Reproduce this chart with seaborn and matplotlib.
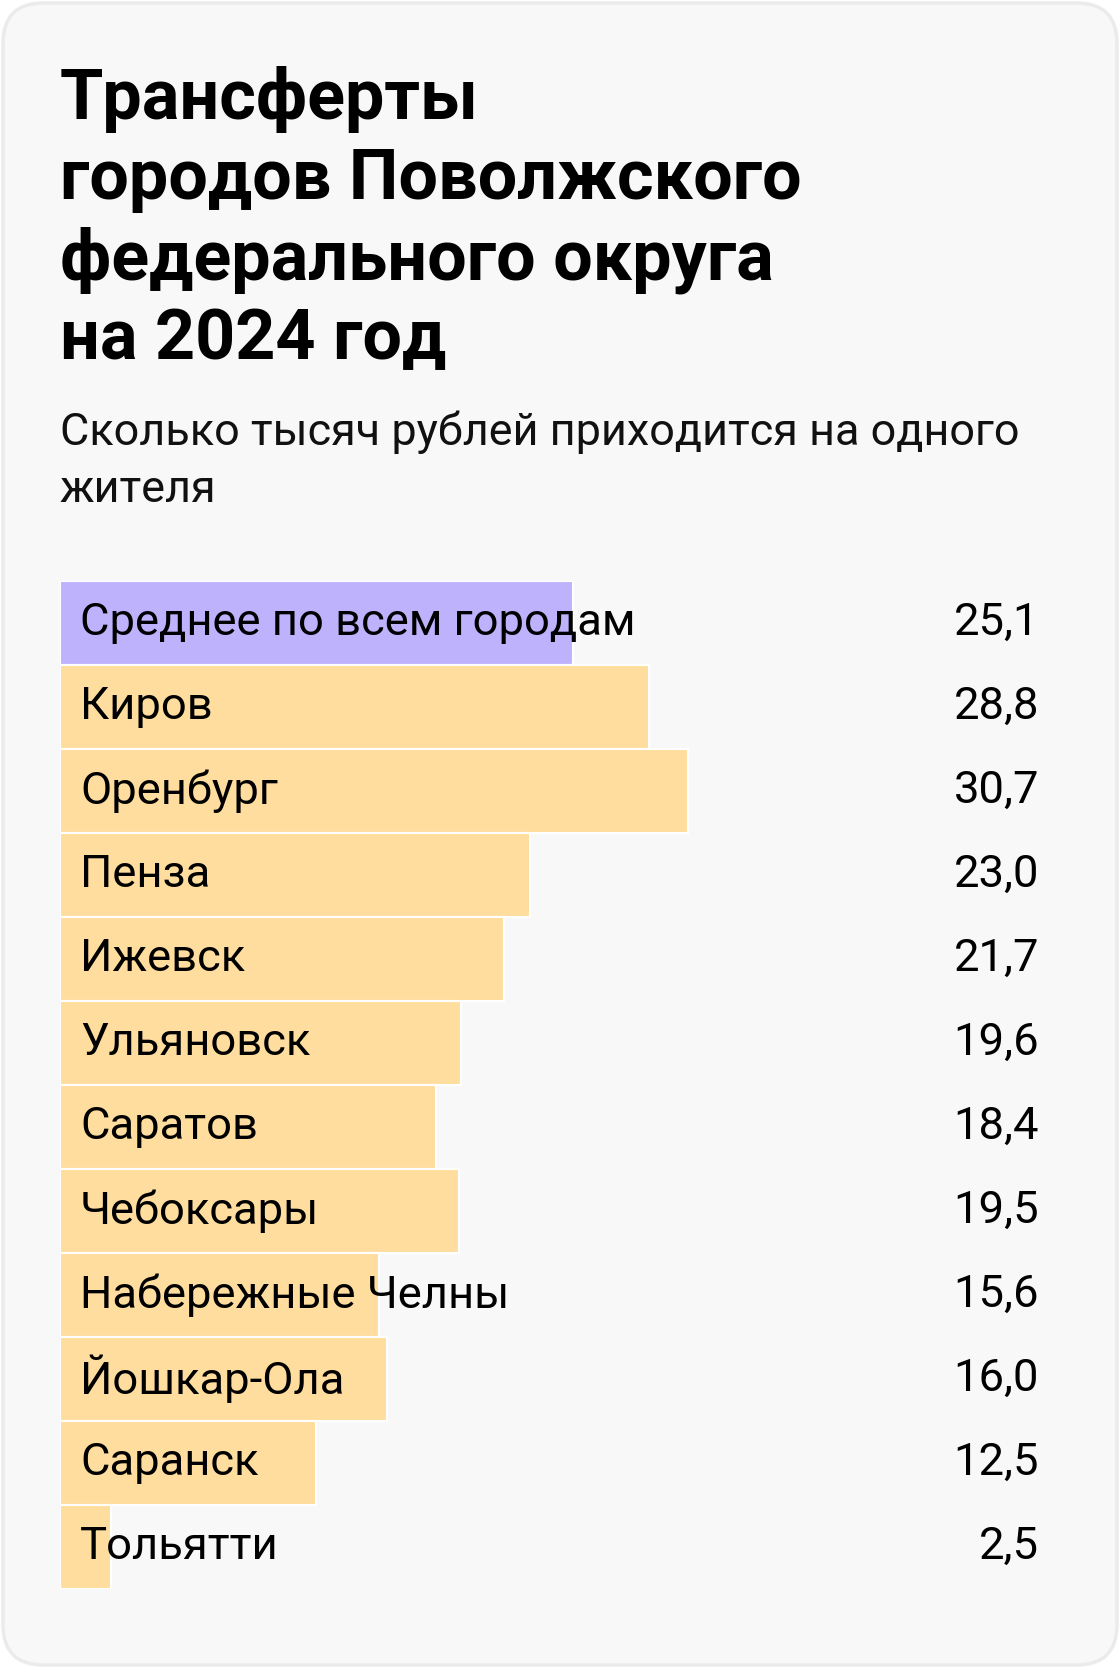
import matplotlib
matplotlib.use("Agg")
import matplotlib.pyplot as plt
from matplotlib.patches import FancyBboxPatch
import seaborn as sns
import pandas as pd

# ── данные ──
cities = ["Среднее по всем городам", "Киров", "Оренбург", "Пенза", "Ижевск",
          "Ульяновск", "Саратов", "Чебоксары", "Набережные Челны",
          "Йошкар-Ола", "Саранск", "Тольятти"]
values = [25.1, 28.8, 30.7, 23.0, 21.7, 19.6, 18.4, 19.5, 15.6, 16.0, 12.5, 2.5]
value_labels = ["25,1", "28,8", "30,7", "23,0", "21,7", "19,6", "18,4", "19,5",
                "15,6", "16,0", "12,5", "2,5"]

title = "Трансферты\nгородов Поволжского\nфедерального округа\nна 2024 год"
subtitle_lines = ["Сколько тысяч рублей приходится на одного", "жителя"]

AVG_COLOR = "#bfb2fd"
BAR_COLOR = "#ffdd9e"
colors = [AVG_COLOR] + [BAR_COLOR] * (len(cities) - 1)

W, H = 1120, 1668
FONT = ["Roboto", "DejaVu Sans"]

sns.set_theme(style="white")
plt.rcParams["font.family"] = FONT

fig = plt.figure(figsize=(W / 100, H / 100), dpi=100)
fig.patch.set_facecolor("white")


def fx(px):
    return px / W


def fy(py):
    return 1 - py / H


# карточка с закруглёнными углами (под осями)
card = FancyBboxPatch((fx(3), fy(1665)), fx(1114), 1662 / H,
                      boxstyle="round,pad=0,rounding_size=0.036",
                      transform=fig.transFigure, facecolor="#f8f8f8",
                      edgecolor="#ebebeb", linewidth=2.5, mutation_aspect=W / H,
                      zorder=-10)
fig.patches.append(card)

# заголовок
for i, line in enumerate(title.split("\n")):
    fig.text(fx(60), fy(119 + i * 80), line, fontsize=50.5, fontweight="bold",
             color="black", va="baseline", ha="left")

for i, line in enumerate(subtitle_lines):
    fig.text(fx(60), fy(445 + i * 57), line, fontsize=32.4, color="#111111",
             va="baseline", ha="left")

# ── столбцы ──
left, top, bottom, right = 60, 581, 1589, 1060
px_per_unit = 20.45
ax = fig.add_axes([fx(left), fy(bottom), fx(right - left), (bottom - top) / H])
ax.set_zorder(5)
df = pd.DataFrame({"city": cities, "value": values})
sns.barplot(data=df, y="city", x="value", hue="city", palette=colors,
            saturation=1, legend=False, orient="h", width=1.0,
            edgecolor="white", linewidth=1.5, ax=ax)
ax.set_xlim(0, (right - left) / px_per_unit)
ax.set_ylim(len(cities) - 0.5, -0.5)
ax.set_facecolor("none")
ax.axis("off")

trans = ax.get_yaxis_transform()
for i, (name, lab) in enumerate(zip(cities, value_labels)):
    ax.text(20 / (right - left), i, name, transform=trans, fontsize=32.7,
            va="center", ha="left", color="black")
    ax.text((1039 - left) / (right - left), i, lab, transform=trans,
            fontsize=32.7, va="center", ha="right", color="black")

plt.savefig("out.png", dpi=100, facecolor="white")
